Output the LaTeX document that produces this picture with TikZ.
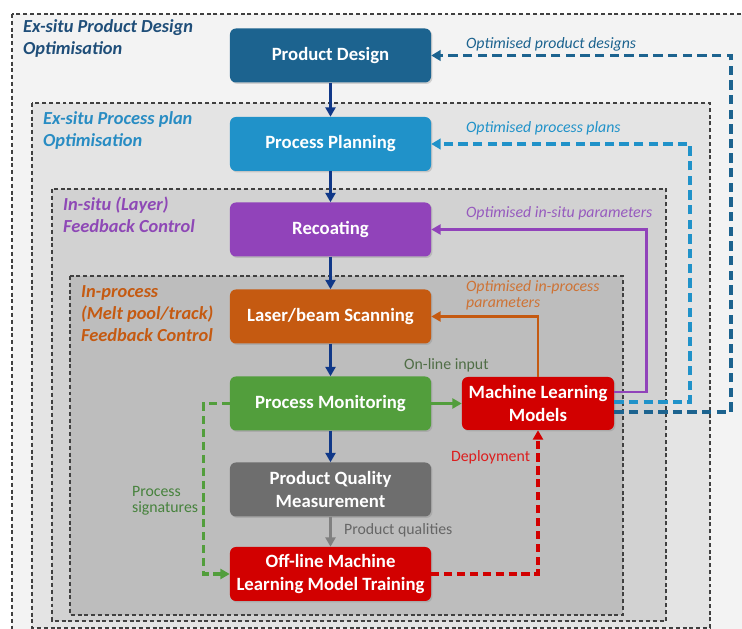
\documentclass[tikz,border=0pt]{standalone}
\usepackage{fontspec}
\setmainfont{Carlito}
\usetikzlibrary{arrows.meta,positioning,shadows}

\definecolor{pdblue}{RGB}{28,99,143}
\definecolor{ppblue}{RGB}{32,146,201}
\definecolor{recpurple}{RGB}{145,67,186}
\definecolor{scanorange}{RGB}{197,90,17}
\definecolor{mongreen}{RGB}{82,158,60}
\definecolor{pqmgray}{RGB}{110,110,110}
\definecolor{mlred}{RGB}{210,0,0}
\definecolor{arrnavy}{RGB}{16,56,136}
\definecolor{zonea}{RGB}{243,243,243}
\definecolor{zoneb}{RGB}{228,228,228}
\definecolor{zonec}{RGB}{210,210,210}
\definecolor{zoned}{RGB}{189,189,189}
\definecolor{labblue}{RGB}{31,78,121}
\definecolor{lablight}{RGB}{40,140,195}
\definecolor{labpurple}{RGB}{142,72,182}
\definecolor{lablpurple}{RGB}{150,90,190}
\definecolor{labgreen}{RGB}{70,130,60}
\definecolor{labolive}{RGB}{80,110,70}
\definecolor{labred}{RGB}{220,30,30}

\begin{document}
\begin{tikzpicture}[x=0.03cm,y=-0.03cm,
    zone/.style={draw=black!75, dash pattern=on 3.4pt off 2.4pt, line width=0.9pt},
    bx/.style={rounded corners=5pt, text=white, align=center,
               font=\bfseries\fontsize{16}{19}\selectfont,
               minimum width=6.03cm, minimum height=1.62cm, inner sep=2pt,
               drop shadow={shadow xshift=1.2pt, shadow yshift=-1.2pt, opacity=0.3}},
    zl/.style={anchor=base west, align=left, font=\bfseries\itshape\fontsize{15.7}{19}\selectfont},
    el/.style={anchor=base west, align=left, font=\itshape\fontsize{13.5}{13.7}\selectfont},
    rl/.style={anchor=base west, align=left, font=\fontsize{13.5}{14.5}\selectfont},
    fl/.style={line width=2.2pt, draw=arrnavy, -{Triangle[length=8pt,width=8.5pt]}},
    fs/.style={line width=2.4pt, -{Triangle[length=8pt,width=8.5pt]}},
    fd/.style={line width=2.6pt, dash pattern=on 7pt off 4pt, -{Triangle[length=8pt,width=8.5pt]}},
    fb/.style={line width=3pt, dash pattern=on 8pt off 4.5pt, -{Triangle[length=8pt,width=9pt]}}
  ]
    \useasboundingbox (0,0) rectangle (742,629);
    \clip (0,0) rectangle (742,629);
    \fill[white] (0,0) rectangle (742,629);

    \filldraw[zone, fill=zonea] (12,14) rectangle (770,660);
    \filldraw[zone, fill=zoneb] (32,103) rectangle (710,628);
    \filldraw[zone, fill=zonec] (52,189) rectangle (666,621);
    \filldraw[zone, fill=zoned] (70,276) rectangle (623,615);

    % multi-line labels sit on the baseline of their last line
    \node[zl, text=labblue]    (zprod) at (19,55)  {Ex-situ Product Design\\Optimisation};
    \node[zl, text=lablight]   (zplan) at (39,147) {Ex-situ Process plan\\Optimisation};
    \node[zl, text=labpurple]  (zlay)  at (59,233) {In-situ (Layer)\\Feedback Control};
    \node[zl, text=scanorange] (zmelt) at (77,342) {In-process\\(Melt pool/track)\\Feedback Control};

    \node[bx, fill=pdblue]     (pd)   at (330.5,55.5) {Product Design};
    \node[bx, fill=ppblue]     (pp)   at (330.5,144)  {Process Planning};
    \node[bx, fill=recpurple]  (rec)  at (330.5,229.5) {Recoating};
    \node[bx, fill=scanorange] (scan) at (330.5,316.5) {Laser/beam Scanning};
    \node[bx, fill=mongreen]   (mon)  at (330.5,403.5) {Process Monitoring};
    \node[bx, fill=pqmgray]    (pqm)  at (330.5,489.5) {Product Quality\\Measurement};
    \node[bx, fill=mlred]      (off)  at (330.5,574)  {Off-line Machine\\Learning Model Training};
    \node[bx, fill=mlred, minimum width=4.56cm, minimum height=1.59cm]
                               (mlm)  at (538,403.5)  {Machine Learning\\Models};

    \draw[fl] (pd)--(pp); \draw[fl] (pp)--(rec); \draw[fl] (rec)--(scan);
    \draw[fl] (scan)--(mon); \draw[fl] (mon)--(pqm);
    \draw[fs, line width=2pt, draw=black!50] (pqm)--(off);
    \draw[fs, draw=mongreen] (mon)--(mlm);
    \draw[fd, draw=mongreen] (mon.west) -- ++(-26,0) |- (off.west);
    \draw[fd, draw=mlred] (off.east) -| (mlm.south);
    \draw[fs, draw=scanorange] (mlm.north) |- (scan.east);
    \draw[fs, draw=recpurple] ([yshift=9.8pt]mlm.east) -- ++(32,0) |- (rec.east);
    \draw[fb, draw=ppblue] ([yshift=1.3pt]mlm.east) -- ++(76,0) |- (pp.east);
    \draw[fb, draw=pdblue] ([yshift=-7.2pt]mlm.east) -- ++(117,0) |- (pd.east);

    \node[el, text=pdblue]     (lpd)   at (462,49)  {Optimised product designs};
    \node[el, text=ppblue]     (lpp)   at (462,133) {Optimised process plans};
    \node[el, text=lablpurple] (lrec)  at (462,218) {Optimised in-situ parameters};
    \node[el, text=scanorange!85] (lscan) at (462,308) {Optimised in-process\\parameters};
    \node[rl, text=labolive]   (lon)   at (400,370) {On-line input};
    \node[rl, text=labgreen]   (lsig)  at (128,513) {Process\\signatures};
    \node[rl, text=labred]     (ldep)  at (447,462) {Deployment};
    \node[rl, text=black!60]   (lqual) at (340,535) {Product qualities};
\end{tikzpicture}
\end{document}
